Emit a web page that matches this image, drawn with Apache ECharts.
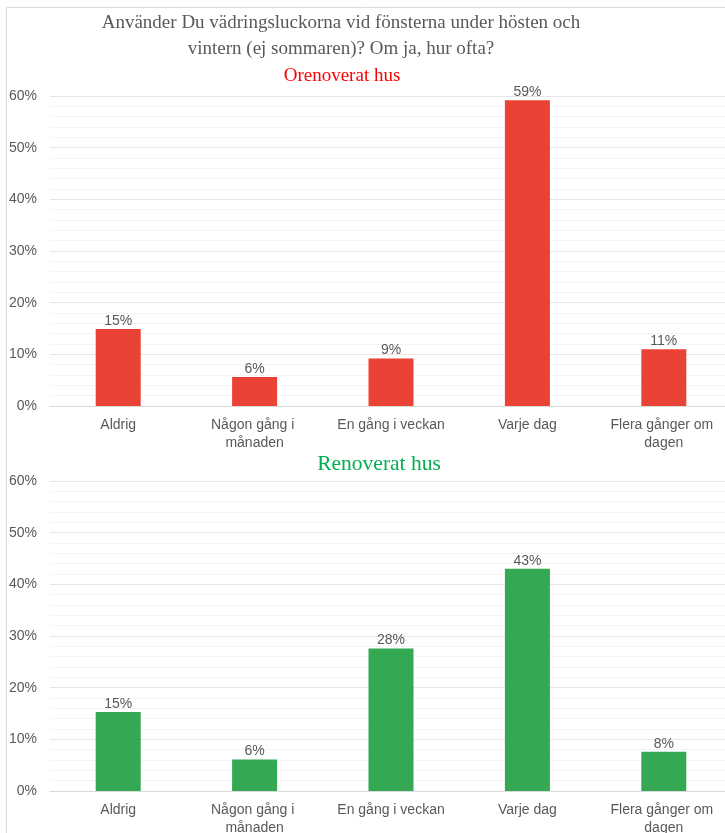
<!DOCTYPE html>
<html>
<head>
<meta charset="utf-8">
<script src="https://cdn.jsdelivr.net/npm/echarts@6/dist/echarts.min.js"></script>
<style>
  html, body { margin: 0; padding: 0; background: #fff; }
  #chart { width: 725px; height: 833px; }
</style>
</head>
<body>
<div id="chart"></div>
<script>
// svarsalternativ
var categories = ['Aldrig', 'Någon gång i månaden', 'En gång i veckan', 'Varje dag', 'Flera gånger om dagen'];
// andel i procent
var orenoverat = [14.9, 5.6, 9.2, 59.2, 11.0];
var renoverat = [15.3, 6.1, 27.6, 43.0, 7.6];
var yTicks = [0, 10, 20, 30, 40, 50, 60];

var textGray = '#595959';

function xAxisFor(idx) {
  return {
    type: 'category',
    gridIndex: idx,
    data: categories,
    axisTick: { show: false },
    axisLine: { lineStyle: { color: '#d9d9d9' } },
    axisLabel: {
      color: textGray,
      fontSize: 14,
      fontFamily: 'Liberation Sans, Arial',
      margin: 10,
      width: 125,
      overflow: 'break',
      lineHeight: 18,
      interval: 0
    }
  };
}

function yAxisFor(idx) {
  return {
    type: 'value',
    gridIndex: idx,
    min: yTicks[0],
    max: yTicks[yTicks.length - 1],
    interval: 10,
    axisLabel: {
      color: textGray,
      fontSize: 14,
      fontFamily: 'Liberation Sans, Arial',
      margin: 13,
      formatter: '{value}%'
    },
    axisLine: { show: false },
    axisTick: { show: false },
    splitLine: { lineStyle: { color: '#e6e6e6' } },
    minorTick: { show: false, splitNumber: 5 },
    minorSplitLine: { show: true, lineStyle: { color: '#f4f4f4' } }
  };
}

function barSeries(idx, data, color) {
  return {
    type: 'bar',
    xAxisIndex: idx,
    yAxisIndex: idx,
    data: data,
    barWidth: 45,
    itemStyle: { color: color },
    label: {
      show: true,
      position: 'top',
      distance: 1,
      color: textGray,
      fontSize: 14,
      fontFamily: 'Liberation Sans, Arial',
      formatter: function (p) { return Math.round(p.value) + '%'; }
    }
  };
}

var chart = echarts.init(document.getElementById('chart'));
var option = {
  backgroundColor: '#fff',
  animation: false,
  title: [
    {
      text: 'Använder Du vädringsluckorna vid fönsterna under hösten och\nvintern (ej sommaren)? Om ja, hur ofta?',
      left: 336, top: 5, textAlign: 'center',
      textStyle: { color: textGray, fontSize: 19, fontWeight: 'normal', fontFamily: 'Liberation Serif, Times New Roman', lineHeight: 26 }
    },
    {
      text: 'Orenoverat hus',
      left: 337, top: 62, textAlign: 'center',
      textStyle: { color: '#ff0000', fontSize: 19, fontWeight: 'normal', fontFamily: 'Liberation Serif, Times New Roman' }
    },
    {
      text: 'Renoverat hus',
      left: 374, top: 448, textAlign: 'center',
      textStyle: { color: '#00b050', fontSize: 21.5, fontWeight: 'normal', fontFamily: 'Liberation Serif, Times New Roman' }
    }
  ],
  graphic: [
    {
      type: 'rect',
      shape: { x: 6.5, y: 7.5, width: 800, height: 900 },
      style: { fill: 'none', stroke: '#d9d9d9', lineWidth: 1 },
      silent: true
    }
  ],
  grid: [
    { left: 50, top: 96, width: 682, height: 310, outerBoundsMode: 'none' },
    { left: 50, top: 481, width: 682, height: 310, outerBoundsMode: 'none' }
  ],
  xAxis: [xAxisFor(0), xAxisFor(1)],
  yAxis: [yAxisFor(0), yAxisFor(1)],
  series: [
    barSeries(0, orenoverat, '#ea4335'),
    barSeries(1, renoverat, '#34a853')
  ]
};
chart.setOption(option);
</script>
</body>
</html>
